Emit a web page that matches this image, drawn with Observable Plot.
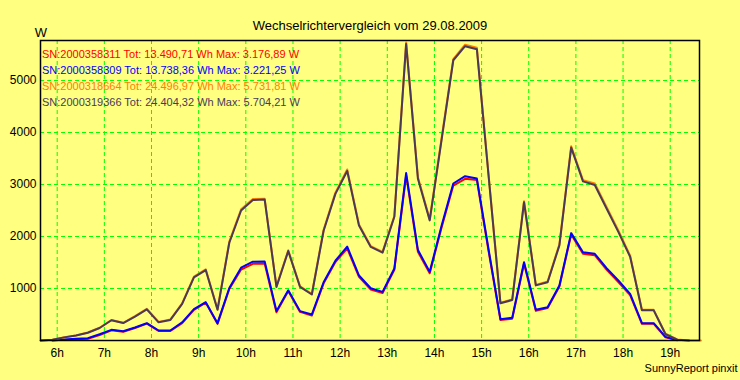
<!DOCTYPE html>
<html>
<head>
<meta charset="utf-8">
<script src="https://cdn.jsdelivr.net/npm/d3@7"></script>
<script src="https://cdn.jsdelivr.net/npm/@observablehq/plot@0.6"></script>
<style>
  html, body { margin: 0; padding: 0; background: #ffff80; }
  #chart { width: 740px; height: 380px; }
</style>
</head>
<body>
<div id="chart"></div>
<script>
const title = "Wechselrichtervergleich vom 29.08.2009";
const unitLabel = "W";
const footer = "SunnyReport pinxit";

const times = ["5:39","5:54","6:09","6:24","6:39","6:54","7:09","7:24","7:39","7:54",
  "8:09","8:24","8:39","8:54","9:09","9:24","9:39","9:54","10:09","10:24",
  "10:39","10:54","11:09","11:24","11:39","11:54","12:09","12:24","12:39","12:54",
  "13:09","13:24","13:39","13:54","14:09","14:24","14:39","14:54","15:09","15:24",
  "15:39","15:54","16:09","16:24","16:39","16:54","17:09","17:24","17:39","17:54",
  "18:09","18:24","18:39","18:54","19:09","19:24","19:39"];

const xTicks = [6,7,8,9,10,11,12,13,14,15,16,17,18,19];
const yTicks = [1000,2000,3000,4000,5000];

const seriesNames = ["SN:2000358311","SN:2000358309","SN:2000318664","SN:2000319366"];
const seriesTotals = ["13.490,71","13.738,36","24.496,97","24.404,32"];
const seriesMax = ["3.176,89","3.221,25","5.731,81","5.704,21"];
const seriesColors = ["#ff0000","#0000ff","#ff8000","#4a3a58"];

// SN:2000358311 (red)
const red = [null,null,10,22,35,105,195,168,240,325,
  185,185,335,590,730,320,990,1365,1475,1480,
  545,950,550,480,1100,1510,1770,1225,980,915,
  1360,3177,1705,1295,2170,2980,3110,3085,1710,395,
  420,1480,570,625,1040,2040,1670,1640,1365,1125,
  875,320,320,60,5,null,null];
// SN:2000358309 (blue)
const blue = [null,0,20,32,45,120,205,178,250,333,
  192,192,350,605,737,333,1010,1400,1515,1520,
  565,965,565,500,1120,1535,1805,1250,1005,936,
  1385,3221,1740,1320,2200,3020,3160,3115,1740,410,
  436,1506,590,641,1058,2065,1699,1667,1390,1154,
  897,333,333,70,10,null,null];
// SN:2000318664 (orange)
const orange = [0,15,62,98,155,245,395,340,468,610,
  358,402,715,1230,1370,600,1900,2525,2720,2725,
  1040,1735,1040,895,2130,2845,3290,2230,1815,1705,
  2395,5732,3140,2330,3880,5410,5690,5630,3170,725,
  790,2680,1070,1135,1850,3735,3085,3020,2570,2115,
  1630,590,590,130,20,0,0];
// SN:2000319366 (dark)
const dark = [0,15,60,95,150,240,390,335,460,600,
  350,395,705,1215,1355,590,1880,2500,2700,2710,
  1030,1720,1030,885,2110,2820,3260,2210,1800,1690,
  2380,5704,3110,2310,3850,5390,5660,5600,3150,715,
  780,2660,1060,1120,1830,3710,3060,2990,2540,2090,
  1610,580,580,120,15,0,null];

const hours = times.map(s => { const [h, m] = s.split(":").map(Number); return h + m / 60; });
const toRows = arr => arr.map((v, i) => ({t: hours[i], v})).filter(d => d.v != null);
const seriesData = [red, blue, orange, dark].map(toRows);

const legendLines = seriesNames.map((n, i) => `${n} Tot: ${seriesTotals[i]} Wh Max: ${seriesMax[i]} W`);

const chart = Plot.plot({
  width: 740,
  height: 380,
  marginLeft: 40,
  marginRight: 41,
  marginTop: 40,
  marginBottom: 40,
  style: {background: "#ffff80", fontFamily: "'Liberation Sans', Arial, sans-serif", fontSize: "12px", color: "black"},
  x: {domain: [5.646, 19.621]},
  y: {domain: [0, 5770]},
  marks: [
    Plot.gridX(xTicks, {stroke: "#00ff00", strokeOpacity: 1, strokeDasharray: "4,3"}),
    Plot.gridY(yTicks, {stroke: "#00ff00", strokeOpacity: 1, strokeDasharray: "4,3"}),
    Plot.axisX(xTicks, {tickSize: 0, tickPadding: 8, tickFormat: d => d + "h", label: null, fontSize: 12}),
    Plot.axisY(yTicks, {tickSize: 0, tickPadding: 4, tickFormat: d => String(d), label: null, fontSize: 12}),
    ...seriesData.map((rows, i) => Plot.line(rows, {x: "t", y: "v", stroke: seriesColors[i], strokeWidth: 2})),
    Plot.frame({stroke: "black", strokeWidth: 1.5}),
    ...legendLines.map((txt, i) => Plot.text([txt], {frameAnchor: "top-left", textAnchor: "start", dx: 1.5, dy: 10 + i * 16, fill: seriesColors[i], fontSize: 11})),
    Plot.text([title], {frameAnchor: "top", dy: -19.6, fontSize: 13, fill: "black"}),
    Plot.text([unitLabel], {frameAnchor: "top-left", textAnchor: "middle", dx: 0.5, dy: -13, fontSize: 13, fill: "black"}),
    Plot.text([footer], {frameAnchor: "bottom-right", textAnchor: "end", dx: 38, dy: 31, fontSize: 11, fill: "black"})
  ]
});
document.getElementById("chart").appendChild(chart);
</script>
</body>
</html>
